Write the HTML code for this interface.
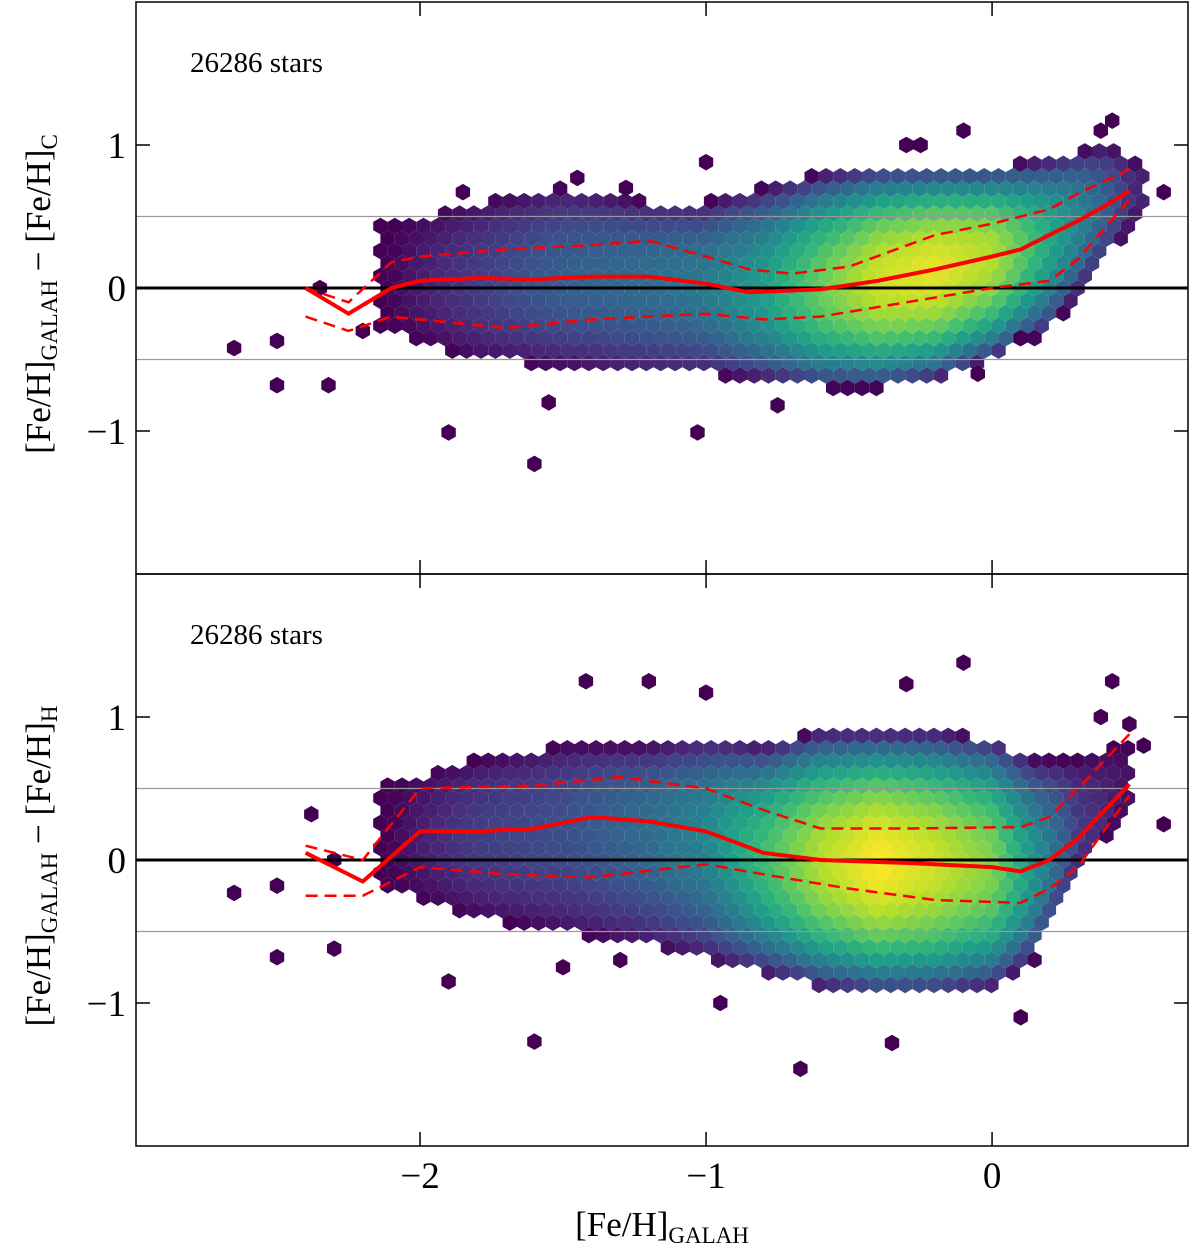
<!DOCTYPE html>
<html><head><meta charset="utf-8"><style>
body{margin:0;background:#fff;}
svg{display:block;font-family:"Liberation Serif","DejaVu Serif",serif;}
</style></head><body>
<svg id="c" width="1200" height="1251" viewBox="0 0 1200 1251"></svg>
<script>
// ---- data ----
const topEnvX   =[-2.1,-1.8,-1.5,-1.2,-1.0,-0.8,-0.6,-0.4,-0.2,0.0,0.2,0.4,0.5];
const topEnvLo  =[-0.3,-0.5,-0.55,-0.6,-0.6,-0.65,-0.7,-0.7,-0.65,-0.5,-0.3,0.2,0.45];
const topEnvHi  =[0.45,0.6,0.7,0.6,0.6,0.7,0.8,0.85,0.85,0.85,0.9,1.0,0.9];
const topEnvPk  =[0.0,0.1,0.2,0.25,0.3,0.45,0.7,0.9,0.95,0.85,0.5,0.2,0.05];
const botEnvX   =[-2.1,-1.8,-1.5,-1.2,-1.0,-0.8,-0.6,-0.4,-0.2,0.0,0.15,0.3,0.45];
const botEnvLo  =[-0.2,-0.4,-0.5,-0.6,-0.7,-0.8,-0.9,-0.95,-0.95,-0.9,-0.7,-0.1,0.3];
const botEnvHi  =[0.55,0.7,0.8,0.8,0.85,0.8,0.9,0.9,0.9,0.85,0.7,0.7,0.8];
const botEnvPk  =[0.0,0.1,0.15,0.25,0.35,0.6,0.85,1.0,0.9,0.75,0.4,0.1,0.02];

const topMedX=[-2.4,-2.25,-2.1,-2.0,-1.8,-1.6,-1.4,-1.2,-1.0,-0.85,-0.6,-0.4,-0.2,0.0,0.1,0.2,0.3,0.4,0.48];
const topMed =[0.0,-0.18,0.0,0.05,0.07,0.06,0.08,0.08,0.03,-0.03,-0.01,0.05,0.13,0.22,0.27,0.37,0.47,0.58,0.68];
const topUpX =[-2.4,-2.25,-2.1,-2.0,-1.7,-1.4,-1.2,-1.0,-0.85,-0.7,-0.5,-0.2,0.0,0.2,0.3,0.48];
const topUp  =[0.0,-0.1,0.18,0.22,0.27,0.3,0.33,0.22,0.13,0.1,0.15,0.37,0.45,0.55,0.66,0.83];
const topLoX =[-2.4,-2.25,-2.1,-2.0,-1.7,-1.4,-1.0,-0.8,-0.6,-0.3,0.0,0.2,0.3,0.48];
const topLo  =[-0.2,-0.3,-0.2,-0.22,-0.28,-0.22,-0.18,-0.22,-0.2,-0.1,0.0,0.05,0.2,0.62];

const botMedX=[-2.4,-2.2,-2.0,-1.8,-1.6,-1.4,-1.2,-1.0,-0.8,-0.6,-0.3,0.0,0.1,0.2,0.3,0.48];
const botMed =[0.05,-0.15,0.2,0.2,0.22,0.3,0.27,0.2,0.05,0.0,-0.02,-0.05,-0.08,0.0,0.15,0.53];
const botUpX =[-2.4,-2.2,-2.0,-1.6,-1.3,-1.0,-0.8,-0.6,-0.3,0.1,0.2,0.3,0.48];
const botUp  =[0.1,0.0,0.5,0.52,0.58,0.5,0.35,0.22,0.22,0.23,0.3,0.5,0.88];
const botLoX =[-2.4,-2.2,-2.0,-1.7,-1.4,-1.0,-0.8,-0.5,-0.2,0.1,0.2,0.3,0.48];
const botLo  =[-0.25,-0.25,-0.05,-0.1,-0.12,-0.03,-0.1,-0.2,-0.28,-0.3,-0.2,-0.05,0.45];

const topOutX=[-2.65,-2.5,-2.5,-2.32,-1.9,-1.6,-1.03,-1.0,-0.1,0.42,0.38,0.6,-1.85,-1.45,-0.3,-0.25,-1.28,-0.05,0.1,-0.75,-1.55,-2.35,-2.2];
const topOutY=[-0.42,-0.37,-0.68,-0.68,-1.01,-1.23,-1.01,0.88,1.1,1.17,1.1,0.67,0.67,0.77,1.0,1.0,0.7,-0.6,-0.35,-0.82,-0.8,0.0,-0.3];
const botOutX=[-2.65,-2.5,-2.5,-2.3,-2.38,-1.9,-1.6,-1.42,-1.2,-1.0,-0.67,-0.35,-0.1,0.42,0.38,0.48,0.6,0.53,-1.5,-0.95,0.1,-1.3,-0.3,-2.3];
const botOutY=[-0.23,-0.18,-0.68,-0.62,0.32,-0.85,-1.27,1.25,1.25,1.17,-1.46,-1.28,1.38,1.25,1.0,0.95,0.25,0.8,-0.75,-1.0,-1.1,-0.7,1.23,0.0];

const xTicks=[-2,-1,0];
const yTicks=[-1,0,1];
// ---- axes ----
const L=136,R=1188;
const X0=-2.993,X1=0.685;
const sx=v=>L+(v-X0)/(X1-X0)*(R-L);
const panels=[{top:2,bot:574},{top:574,bot:1146}];
const sy=(p,v)=>p.top+(2-v)/4*(p.bot-p.top);
const NS='http://www.w3.org/2000/svg';
const svg=document.getElementById('c');
function mk(t,a,parent){const e=document.createElementNS(NS,t);for(const k in a)e.setAttribute(k,a[k]);(parent||svg).appendChild(e);return e;}
function interp(xs,ys,x){if(x<=xs[0])return ys[0];for(let i=1;i<xs.length;i++)if(x<=xs[i]){const t=(x-xs[i-1])/(xs[i]-xs[i-1]);return ys[i-1]+t*(ys[i]-ys[i-1]);}return ys[ys.length-1];}
const vir=[[68,1,84],[72,40,120],[62,74,137],[49,104,142],[38,130,142],[31,158,137],[53,183,121],[110,206,88],[181,222,43],[253,231,37]];
function viridis(t){t=Math.max(0,Math.min(1,t))*(vir.length-1);const i=Math.min(Math.floor(t),vir.length-2),f=t-i;const c=vir[i].map((v,k)=>Math.round(v+f*(vir[i+1][k]-v)));return `rgb(${c[0]},${c[1]},${c[2]})`;}
const hr=8.3;
function hexPath(cx,cy){let d='';for(let k=0;k<6;k++){const a=Math.PI/180*(60*k-90);d+=(k?'L':'M')+(cx+hr*Math.cos(a)).toFixed(1)+','+(cy+hr*Math.sin(a)).toFixed(1);}return d+'Z';}

function drawPanel(p,idx,env,med,up,lo,out,label){
  const g=mk('g',{});
  const cp=mk('clipPath',{id:'cp'+idx},g);mk('rect',{x:L,y:p.top,width:R-L,height:p.bot-p.top},cp);
  const hg=mk('g',{'clip-path':`url(#cp${idx})`,},g);
  const dxp=hr*Math.sqrt(3),dyp=hr*1.5;
  let row=0;
  for(let cy=p.top;cy<p.bot;cy+=dyp,row++){
    for(let cx=L+(row%2?dxp/2:0);cx<R;cx+=dxp){
      const xd=X0+(cx-L)/(R-L)*(X1-X0), yd=2-(cy-p.top)/(p.bot-p.top)*4;
      if(xd<env.x[0]-0.05||xd>env.x[env.x.length-1]+0.05)continue;
      const lo_=interp(env.x,env.lo,xd),hi_=interp(env.x,env.hi,xd),m=interp(med.x,med.y,xd),pk=interp(env.x,env.pk,xd);
      if(yd<lo_||yd>hi_)continue;
      const half=yd>m?(hi_-m):(m-lo_);
      const r=half>0?(yd-m)/half:0;
      const t=Math.pow(pk*Math.max(0,1-r*r),0.75);
      const h=mk('path',{d:hexPath(cx,cy),fill:viridis(t)},hg);
      
      
    }
  }
  out.x.forEach((xv,i)=>{
    const cx=sx(xv),cy=sy(p,out.y[i]);
    const h=mk('path',{d:hexPath(cx,cy),fill:viridis(0)},hg);
    
    
  });
  [0.5,-0.5].forEach(v=>mk('line',{x1:L,x2:R,y1:sy(p,v),y2:sy(p,v),stroke:'#999','stroke-width':1.2,},g));
  mk('line',{x1:L,x2:R,y1:sy(p,0),y2:sy(p,0),stroke:'#000','stroke-width':3,},g);
  const pl=(xs,ys,dash,w,name)=>{mk('polyline',{points:xs.map((x,i)=>sx(x).toFixed(1)+','+sy(p,ys[i]).toFixed(1)).join(' '),fill:'none',stroke:'#f00','stroke-width':w,'stroke-dasharray':dash||'none',},g);};
  pl(up.x,up.y,'12,7',2.5,'upper-percentile-line');
  pl(lo.x,lo.y,'12,7',2.5,'lower-percentile-line');
  pl(med.x,med.y,null,4,'median-line');
  mk('rect',{x:L,y:p.top,width:R-L,height:p.bot-p.top,fill:'none',stroke:'#000','stroke-width':1.5,},g);
  xTicks.forEach(v=>{const x=sx(v);
    mk('line',{x1:x,x2:x,y1:p.bot,y2:p.bot-14,stroke:'#000','stroke-width':1.5,},g);
    mk('line',{x1:x,x2:x,y1:p.top,y2:p.top+14,stroke:'#000','stroke-width':1.5,},g);});
  yTicks.forEach(v=>{const y=sy(p,v);
    mk('line',{x1:L,x2:L+14,y1:y,y2:y,stroke:'#000','stroke-width':1.5,},g);
    mk('line',{x1:R,x2:R-14,y1:y,y2:y,stroke:'#000','stroke-width':1.5,},g);
    const t=mk('text',{x:L-10,y:y+13,'text-anchor':'end','font-size':37,},g);t.textContent=v<0?'−'+(-v):String(v);});
  const st=mk('text',{x:190,y:p.top+70,'font-size':29,},g);st.textContent='26286 stars';
  const yl=mk('text',{transform:`translate(50,${(p.top+p.bot)/2+6}) rotate(-90)`,'text-anchor':'middle','font-size':35,},g);
  yl.innerHTML='[Fe/H]<tspan font-size="23" dy="7">GALAH</tspan><tspan dy="-7"> − [Fe/H]</tspan><tspan font-size="23" dy="7">'+label+'</tspan>';
}
drawPanel(panels[0],0,{x:topEnvX,lo:topEnvLo,hi:topEnvHi,pk:topEnvPk},{x:topMedX,y:topMed},{x:topUpX,y:topUp},{x:topLoX,y:topLo},{x:topOutX,y:topOutY},'C');
drawPanel(panels[1],1,{x:botEnvX,lo:botEnvLo,hi:botEnvHi,pk:botEnvPk},{x:botMedX,y:botMed},{x:botUpX,y:botUp},{x:botLoX,y:botLo},{x:botOutX,y:botOutY},'H');
xTicks.forEach(v=>{const t=mk('text',{x:sx(v),y:1188,'text-anchor':'middle','font-size':37,});t.textContent=v<0?'−'+(-v):String(v);});
const xl=mk('text',{x:662,y:1236,'text-anchor':'middle','font-size':35,});
xl.innerHTML='[Fe/H]<tspan font-size="23" dy="7">GALAH</tspan>';
</script>
</body></html>
